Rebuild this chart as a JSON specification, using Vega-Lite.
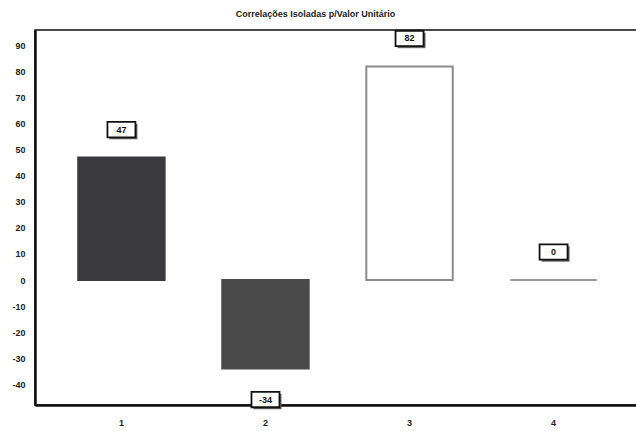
{
  "$schema": "https://vega.github.io/schema/vega-lite/v6.json",
  "autosize": "none",
  "width": 605,
  "height": 375,
  "padding": {"left": 35, "top": 30, "right": 0, "bottom": 26},
  "background": "white",
  "title": {
    "text": "Correlações Isoladas p/Valor Unitário",
    "font": "Liberation Sans",
    "fontSize": 9,
    "fontWeight": "bold",
    "color": "#222222",
    "anchor": "middle",
    "dx": -22,
    "offset": 8
  },
  "config": {
    "view": {"stroke": "#111111", "strokeWidth": 1.5},
    "axis": {
      "labelFont": "Liberation Sans",
      "labelFontSize": 9,
      "labelFontWeight": "bold",
      "labelColor": "#222222",
      "ticks": false,
      "grid": false,
      "title": null,
      "domainColor": "#111111",
      "domainWidth": 2.5
    }
  },
  "data": {
    "values": [
      {"categoria": "1", "valor": 47},
      {"categoria": "2", "valor": -34},
      {"categoria": "3", "valor": 82},
      {"categoria": "4", "valor": 0}
    ]
  },
  "transform": [{"calculate": "toString(datum.valor)", "as": "rotulo"}],
  "encoding": {
    "x": {
      "field": "categoria",
      "type": "ordinal",
      "scale": {"paddingInner": 0.4, "paddingOuter": 0.3},
      "axis": {"labelAngle": 0, "labelPadding": 13}
    },
    "y": {
      "field": "valor",
      "type": "quantitative",
      "scale": {"domain": [-48, 96], "nice": false, "zero": false},
      "axis": {"values": [-40, -30, -20, -10, 0, 10, 20, 30, 40, 50, 60, 70, 80, 90], "labelPadding": 10, "labelExpr": "replace(datum.label, '\u2212', '-')"}
    }
  },
  "layer": [
    {
      "mark": {"type": "bar", "strokeWidth": 2},
      "encoding": {
        "color": {
          "field": "categoria",
          "type": "nominal",
          "scale": {"domain": ["1", "2", "3", "4"], "range": ["#3b3b3f", "#4a4a4a", "#ffffff", "#ffffff"]},
          "legend": null
        },
        "stroke": {
          "field": "categoria",
          "type": "nominal",
          "scale": {"domain": ["1", "2", "3", "4"], "range": ["#3b3b3f", "#4a4a4a", "#8c8c8c", "#9a9a9a"]},
          "legend": null
        }
      }
    },
    {
      "transform": [{"filter": "datum.valor >= 0"}],
      "layer": [
        {
          "mark": {"type": "point", "shape": "M-1,-0.55 L1,-0.55 L1,0.55 L-1,0.55 Z", "size": 784, "filled": true, "fill": "#666666", "strokeWidth": 0, "opacity": 1, "xOffset": 2, "yOffset": -26}
        },
        {
          "mark": {"type": "point", "shape": "M-1,-0.55 L1,-0.55 L1,0.55 L-1,0.55 Z", "size": 784, "filled": false, "fill": "#ffffff", "fillOpacity": 1, "stroke": "#111111", "strokeWidth": 1.8, "opacity": 1, "yOffset": -28}
        },
        {
          "mark": {"type": "text", "font": "Liberation Sans", "fontSize": 9, "fontWeight": "bold", "color": "#111111", "baseline": "middle", "yOffset": -28},
          "encoding": {"text": {"field": "rotulo", "type": "nominal"}}
        }
      ]
    },
    {
      "transform": [{"filter": "datum.valor < 0"}],
      "layer": [
        {
          "mark": {"type": "point", "shape": "M-1,-0.55 L1,-0.55 L1,0.55 L-1,0.55 Z", "size": 784, "filled": true, "fill": "#666666", "strokeWidth": 0, "opacity": 1, "xOffset": 2, "yOffset": 33}
        },
        {
          "mark": {"type": "point", "shape": "M-1,-0.55 L1,-0.55 L1,0.55 L-1,0.55 Z", "size": 784, "filled": false, "fill": "#ffffff", "fillOpacity": 1, "stroke": "#111111", "strokeWidth": 1.8, "opacity": 1, "yOffset": 31}
        },
        {
          "mark": {"type": "text", "font": "Liberation Sans", "fontSize": 9, "fontWeight": "bold", "color": "#111111", "baseline": "middle", "yOffset": 31},
          "encoding": {"text": {"field": "rotulo", "type": "nominal"}}
        }
      ]
    }
  ]
}
